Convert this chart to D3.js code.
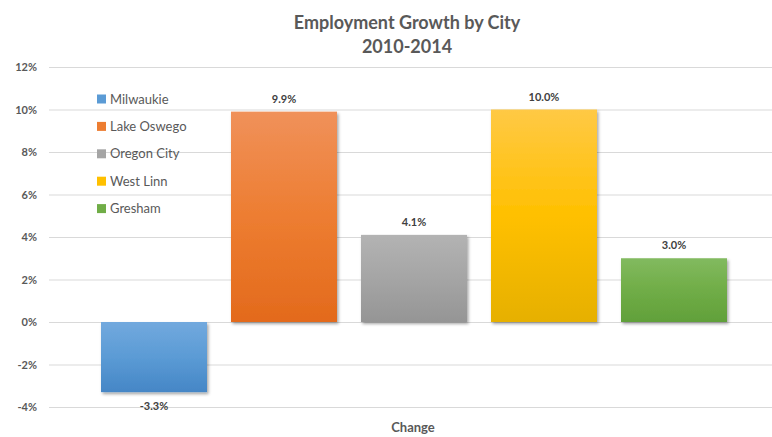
<!DOCTYPE html>
<html><head><meta charset="utf-8">
<script src="https://cdn.jsdelivr.net/npm/d3@7"></script>
<style>body{margin:0;background:#fff}svg{display:block;font-family:Lato,"Open Sans",sans-serif}</style>
</head><body>
<svg id="c" width="772" height="437"></svg>
<script>
const cities = ["Milwaukie","Lake Oswego","Oregon City","West Linn","Gresham"];
const values = [-3.3, 9.9, 4.1, 10.0, 3.0];
const yTicks = [-4,-2,0,2,4,6,8,10,12];
const colorsTop = ["#72a9de","#f0915a","#b3b3b3","#ffc945","#82ba5f"];
const colorsMid = ["#5b9bd5","#ed7d31","#a5a5a5","#ffc000","#70ad47"];
const colorsBot = ["#4586c6","#e36a1c","#959595","#e6b000","#61a03a"];
const title = ["Employment Growth by City","2010-2014"];
const xLabel = "Change";

const svg = d3.select("#c");
const defs = svg.append("defs");
const f = defs.append("filter").attr("id","sh").attr("x","-10%").attr("y","-10%").attr("width","130%").attr("height","130%");
f.append("feDropShadow").attr("dx",1.5).attr("dy",2).attr("stdDeviation",1.6).attr("flood-color","#000").attr("flood-opacity",0.35);
cities.forEach((c,i)=>{
  const g = defs.append("linearGradient").attr("id","g"+i).attr("x1",0).attr("y1",0).attr("x2",0).attr("y2",1);
  g.append("stop").attr("offset","0%").attr("stop-color",colorsTop[i]);
  g.append("stop").attr("offset","50%").attr("stop-color",colorsMid[i]);
  g.append("stop").attr("offset","100%").attr("stop-color",colorsBot[i]);
});

const y = d3.scaleLinear().domain([-4,12]).range([407,67]);
const x = d3.scaleBand().domain(cities).range([49,779]).paddingInner(0.1846).paddingOuter(0.4);

// gridlines
svg.append("g").selectAll("line").data(yTicks).join("line")
  .attr("x1",49).attr("x2",772).attr("y1",d=>y(d)+0.5).attr("y2",d=>y(d)+0.5)
  .attr("stroke","#d9d9d9").attr("stroke-width",1);

// y axis labels
const ya = svg.append("g").attr("transform","translate(37,0)")
  .call(d3.axisLeft(y).tickValues(yTicks).tickSize(0).tickPadding(0).tickFormat(d=>d+"%"));
ya.select(".domain").remove();
ya.selectAll("text").attr("font-size",11).attr("font-weight","bold").attr("fill","#595959").attr("font-family","Lato,'Open Sans',sans-serif");

// bars
svg.append("g").selectAll("rect").data(values).join("rect")
  .attr("x",(d,i)=>x(cities[i])).attr("width",x.bandwidth())
  .attr("y",d=>Math.min(y(d),y(0))).attr("height",d=>Math.abs(y(d)-y(0)))
  .attr("fill",(d,i)=>`url(#g${i})`).attr("filter","url(#sh)");

// value labels
svg.append("g").selectAll("text").data(values).join("text")
  .attr("x",(d,i)=>x(cities[i])+x.bandwidth()/2)
  .attr("y",d=>d>=0 ? y(d)-9 : y(d)+18)
  .attr("text-anchor","middle").attr("font-size",11).attr("font-weight","bold").attr("fill","#404040")
  .text(d=>d.toFixed(1)+"%");

// legend
const lg = svg.append("g").selectAll("g").data(cities).join("g")
  .attr("transform",(d,i)=>`translate(97,${99+i*27.4})`);
lg.append("rect").attr("x",0).attr("y",-4.5).attr("width",9).attr("height",9).attr("fill",(d,i)=>colorsMid[i]);
lg.append("text").attr("x",13).attr("y",0).attr("dy","0.35em").attr("font-size",13).attr("fill","#595959").text(d=>d);

// title
svg.append("g").selectAll("text").data(title).join("text")
  .attr("x",407).attr("y",(d,i)=>29+i*24).attr("text-anchor","middle")
  .attr("font-size",18).attr("font-weight","bold").attr("fill","#595959").text(d=>d);

// x label
svg.append("text").attr("x",413).attr("y",432).attr("text-anchor","middle")
  .attr("font-size",13).attr("font-weight","bold").attr("fill","#595959").text(xLabel);
</script>
</body></html>
